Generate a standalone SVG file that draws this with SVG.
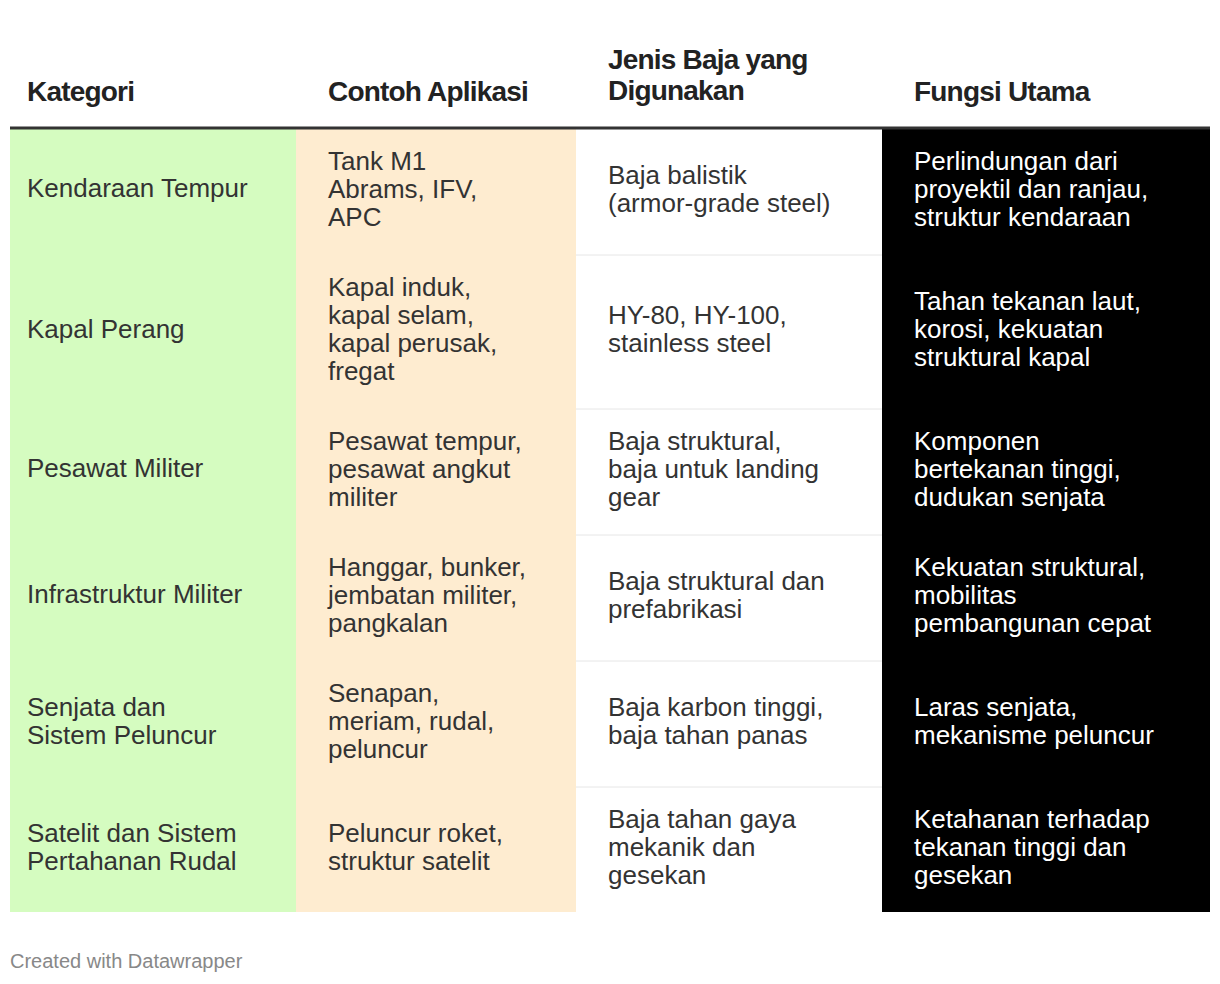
<svg xmlns="http://www.w3.org/2000/svg" width="1220" height="984" viewBox="0 0 1220 984">
<style>
text{font-family:"Liberation Sans",Arial,sans-serif;font-size:26px;fill:#333}
.h{font-weight:bold;font-size:28px;fill:#222;letter-spacing:-0.8px}
.w{fill:#fff}
.f{font-size:20px;fill:#888}
.sep{stroke:#e6e6e6;stroke-width:1}
</style>
<rect width="1220" height="984" fill="#fff"/>
<g id="columns">
<rect x="10" y="128" width="286" height="784" fill="#d5fcc0"/>
<rect x="296" y="128" width="280" height="784" fill="#feecd0"/>
<rect x="882" y="128" width="328" height="784" fill="#000"/>
</g>
<g id="lines">
<line x1="10" y1="128" x2="1210" y2="128" stroke="#333" stroke-width="3"/>
<line class="sep" x1="576" y1="255" x2="882" y2="255"/>
<line class="sep" x1="576" y1="409" x2="882" y2="409"/>
<line class="sep" x1="576" y1="535" x2="882" y2="535"/>
<line class="sep" x1="576" y1="661" x2="882" y2="661"/>
<line class="sep" x1="576" y1="787" x2="882" y2="787"/>
</g>
<g id="header">
<text class="h" x="27" y="101">Kategori</text>
<text class="h" x="328" y="101">Contoh Aplikasi</text>
<text class="h" x="608" y="69">Jenis Baja yang</text>
<text class="h" x="608" y="100">Digunakan</text>
<text class="h" x="914" y="101">Fungsi Utama</text>
</g>
<g id="row1">
<text x="27" y="197">Kendaraan Tempur</text>
<text x="328" y="170">Tank M1</text><text x="328" y="198">Abrams, IFV,</text><text x="328" y="226">APC</text>
<text x="608" y="184">Baja balistik</text><text x="608" y="212">(armor-grade steel)</text>
<text class="w" x="914" y="170">Perlindungan dari</text><text class="w" x="914" y="198">proyektil dan ranjau,</text><text class="w" x="914" y="226">struktur kendaraan</text>
</g>
<g id="row2">
<text x="27" y="338">Kapal Perang</text>
<text x="328" y="296">Kapal induk,</text><text x="328" y="324">kapal selam,</text><text x="328" y="352">kapal perusak,</text><text x="328" y="380">fregat</text>
<text x="608" y="324">HY-80, HY-100,</text><text x="608" y="352">stainless steel</text>
<text class="w" x="914" y="310">Tahan tekanan laut,</text><text class="w" x="914" y="338">korosi, kekuatan</text><text class="w" x="914" y="366">struktural kapal</text>
</g>
<g id="row3">
<text x="27" y="477">Pesawat Militer</text>
<text x="328" y="450">Pesawat tempur,</text><text x="328" y="478">pesawat angkut</text><text x="328" y="506">militer</text>
<text x="608" y="450">Baja struktural,</text><text x="608" y="478">baja untuk landing</text><text x="608" y="506">gear</text>
<text class="w" x="914" y="450">Komponen</text><text class="w" x="914" y="478">bertekanan tinggi,</text><text class="w" x="914" y="506">dudukan senjata</text>
</g>
<g id="row4">
<text x="27" y="603">Infrastruktur Militer</text>
<text x="328" y="576">Hanggar, bunker,</text><text x="328" y="604">jembatan militer,</text><text x="328" y="632">pangkalan</text>
<text x="608" y="590">Baja struktural dan</text><text x="608" y="618">prefabrikasi</text>
<text class="w" x="914" y="576">Kekuatan struktural,</text><text class="w" x="914" y="604">mobilitas</text><text class="w" x="914" y="632">pembangunan cepat</text>
</g>
<g id="row5">
<text x="27" y="716">Senjata dan</text><text x="27" y="744">Sistem Peluncur</text>
<text x="328" y="702">Senapan,</text><text x="328" y="730">meriam, rudal,</text><text x="328" y="758">peluncur</text>
<text x="608" y="716">Baja karbon tinggi,</text><text x="608" y="744">baja tahan panas</text>
<text class="w" x="914" y="716">Laras senjata,</text><text class="w" x="914" y="744">mekanisme peluncur</text>
</g>
<g id="row6">
<text x="27" y="842">Satelit dan Sistem</text><text x="27" y="870">Pertahanan Rudal</text>
<text x="328" y="842">Peluncur roket,</text><text x="328" y="870">struktur satelit</text>
<text x="608" y="828">Baja tahan gaya</text><text x="608" y="856">mekanik dan</text><text x="608" y="884">gesekan</text>
<text class="w" x="914" y="828">Ketahanan terhadap</text><text class="w" x="914" y="856">tekanan tinggi dan</text><text class="w" x="914" y="884">gesekan</text>
</g>
<text class="f" x="10" y="968">Created with Datawrapper</text>
</svg>
